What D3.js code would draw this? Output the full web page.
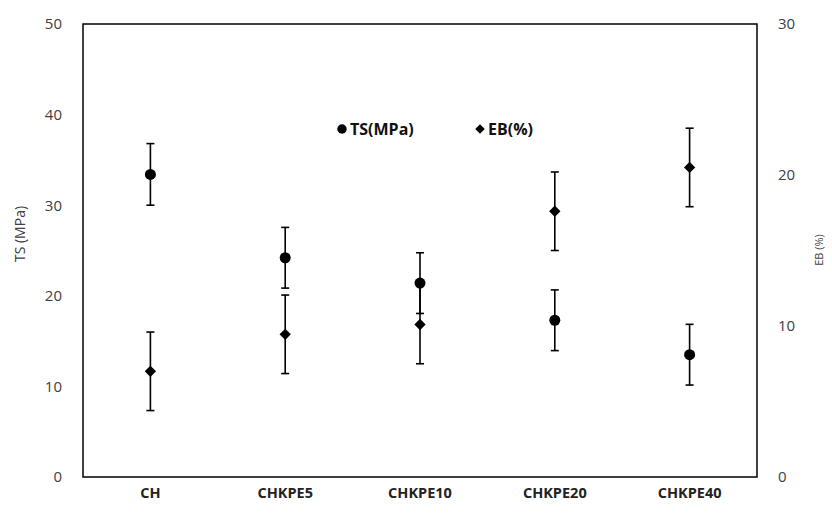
<!DOCTYPE html>
<html>
<head>
<meta charset="utf-8">
<script src="https://cdn.jsdelivr.net/npm/d3@7"></script>
<style>
  body { margin: 0; background: #fff; }
  .axis text { font-family: "Open Sans", sans-serif; font-size: 15px; fill: #404040; }
  .x.axis text { font-weight: bold; font-size: 14.5px; fill: #222; }
  .legend text { font-family: "Open Sans", sans-serif; font-size: 16px; font-weight: bold; fill: #111; }
  .axis-title { font-family: "Open Sans", sans-serif; fill: #404040; }
</style>
</head>
<body>
<div id="chart"></div>
<script>
// Data
var categories = ["CH", "CHKPE5", "CHKPE10", "CHKPE20", "CHKPE40"];
var tsValues = [33.4, 24.2, 21.4, 17.3, 13.5];
var tsErrors = [3.4, 3.35, 3.35, 3.35, 3.35];
var ebValues = [7.0, 9.45, 10.1, 17.6, 20.5];
var ebErrors = [2.6, 2.6, 2.6, 2.6, 2.6];
var leftTicks = [0, 10, 20, 30, 40, 50];
var rightTicks = [0, 10, 20, 30];

var width = 832, height = 514;
var margins = { top: 24, right: 75, bottom: 37, left: 83 };
var chartWidth = width - margins.left - margins.right;
var chartHeight = height - margins.top - margins.bottom;

var svg = d3.select("#chart").append("svg")
  .attr("width", width)
  .attr("height", height);

var chart = svg.append("g")
  .attr("transform", `translate(${margins.left},${margins.top})`);

var xScale = d3.scaleBand().domain(categories).range([0, chartWidth]).padding(0);
var yLeft = d3.scaleLinear().domain([0, 50]).range([chartHeight, 0]);
var yRight = d3.scaleLinear().domain([0, 30]).range([chartHeight, 0]);
var cx = d => xScale(d) + xScale.bandwidth() / 2;

// Axes (no tick marks, labels only)
chart.append("g")
  .attr("class", "y axis")
  .call(d3.axisLeft(yLeft).tickValues(leftTicks).tickSize(0).tickPadding(21))
  .call(g => g.select(".domain").remove());

chart.append("g")
  .attr("class", "y axis")
  .attr("transform", `translate(${chartWidth},0)`)
  .call(d3.axisRight(yRight).tickValues(rightTicks).tickSize(0).tickPadding(21))
  .call(g => g.select(".domain").remove());

chart.append("g")
  .attr("class", "x axis")
  .attr("transform", `translate(0,${chartHeight})`)
  .call(d3.axisBottom(xScale).tickSize(0).tickPadding(11))
  .call(g => g.select(".domain").remove());

// Plot border
chart.append("rect")
  .attr("x", 0).attr("y", 0)
  .attr("width", chartWidth).attr("height", chartHeight)
  .attr("fill", "none")
  .attr("stroke", "#000")
  .attr("stroke-width", 1.5);

// Axis titles
svg.append("text")
  .attr("class", "axis-title")
  .attr("transform", `translate(25,234) rotate(-90)`)
  .attr("text-anchor", "middle")
  .style("font-size", "14px")
  .text("TS (MPa)");

svg.append("text")
  .attr("class", "axis-title")
  .attr("transform", `translate(823,250) rotate(-90)`)
  .attr("text-anchor", "middle")
  .style("font-size", "11px")
  .text("EB (%)");

// diamond = square turned 45 degrees
var series = [
  { name: "TS", values: tsValues, errors: tsErrors, scale: yLeft, symbol: d3.symbolCircle, size: 95, rot: 0 },
  { name: "EB", values: ebValues, errors: ebErrors, scale: yRight, symbol: d3.symbolSquare, size: 64, rot: 45 }
];

series.forEach(function(s) {
  var pts = categories.map((c, i) => ({ cat: c, value: s.values[i], err: s.errors[i] }));
  var g = chart.append("g").attr("class", "series " + s.name);

  var bars = g.selectAll("g.err").data(pts).enter().append("g").attr("class", "err")
    .attr("stroke", "#000").attr("stroke-width", 1.6);
  bars.append("line")
    .attr("x1", d => cx(d.cat)).attr("x2", d => cx(d.cat))
    .attr("y1", d => s.scale(d.value + d.err)).attr("y2", d => s.scale(d.value - d.err));
  bars.append("line")
    .attr("x1", d => cx(d.cat) - 4).attr("x2", d => cx(d.cat) + 4)
    .attr("y1", d => s.scale(d.value + d.err)).attr("y2", d => s.scale(d.value + d.err));
  bars.append("line")
    .attr("x1", d => cx(d.cat) - 4).attr("x2", d => cx(d.cat) + 4)
    .attr("y1", d => s.scale(d.value - d.err)).attr("y2", d => s.scale(d.value - d.err));

  g.selectAll("path.mark").data(pts).enter().append("path")
    .attr("class", "mark")
    .attr("d", d3.symbol().type(s.symbol).size(s.size))
    .attr("transform", d => `translate(${cx(d.cat)},${s.scale(d.value)}) rotate(${s.rot})`)
    .attr("fill", "#000");
});

// Legend
var legend = svg.append("g").attr("class", "legend");
var legendItems = [
  { label: "TS(MPa)", symbol: d3.symbolCircle, size: 70, rot: 0, x: 342 },
  { label: "EB(%)", symbol: d3.symbolSquare, size: 45, rot: 45, x: 480 }
];
legendItems.forEach(function(item) {
  legend.append("path")
    .attr("d", d3.symbol().type(item.symbol).size(item.size))
    .attr("transform", `translate(${item.x},129) rotate(${item.rot})`)
    .attr("fill", "#000");
  legend.append("text")
    .attr("x", item.x + 8)
    .attr("y", 135)
    .text(item.label);
});
</script>
</body>
</html>
